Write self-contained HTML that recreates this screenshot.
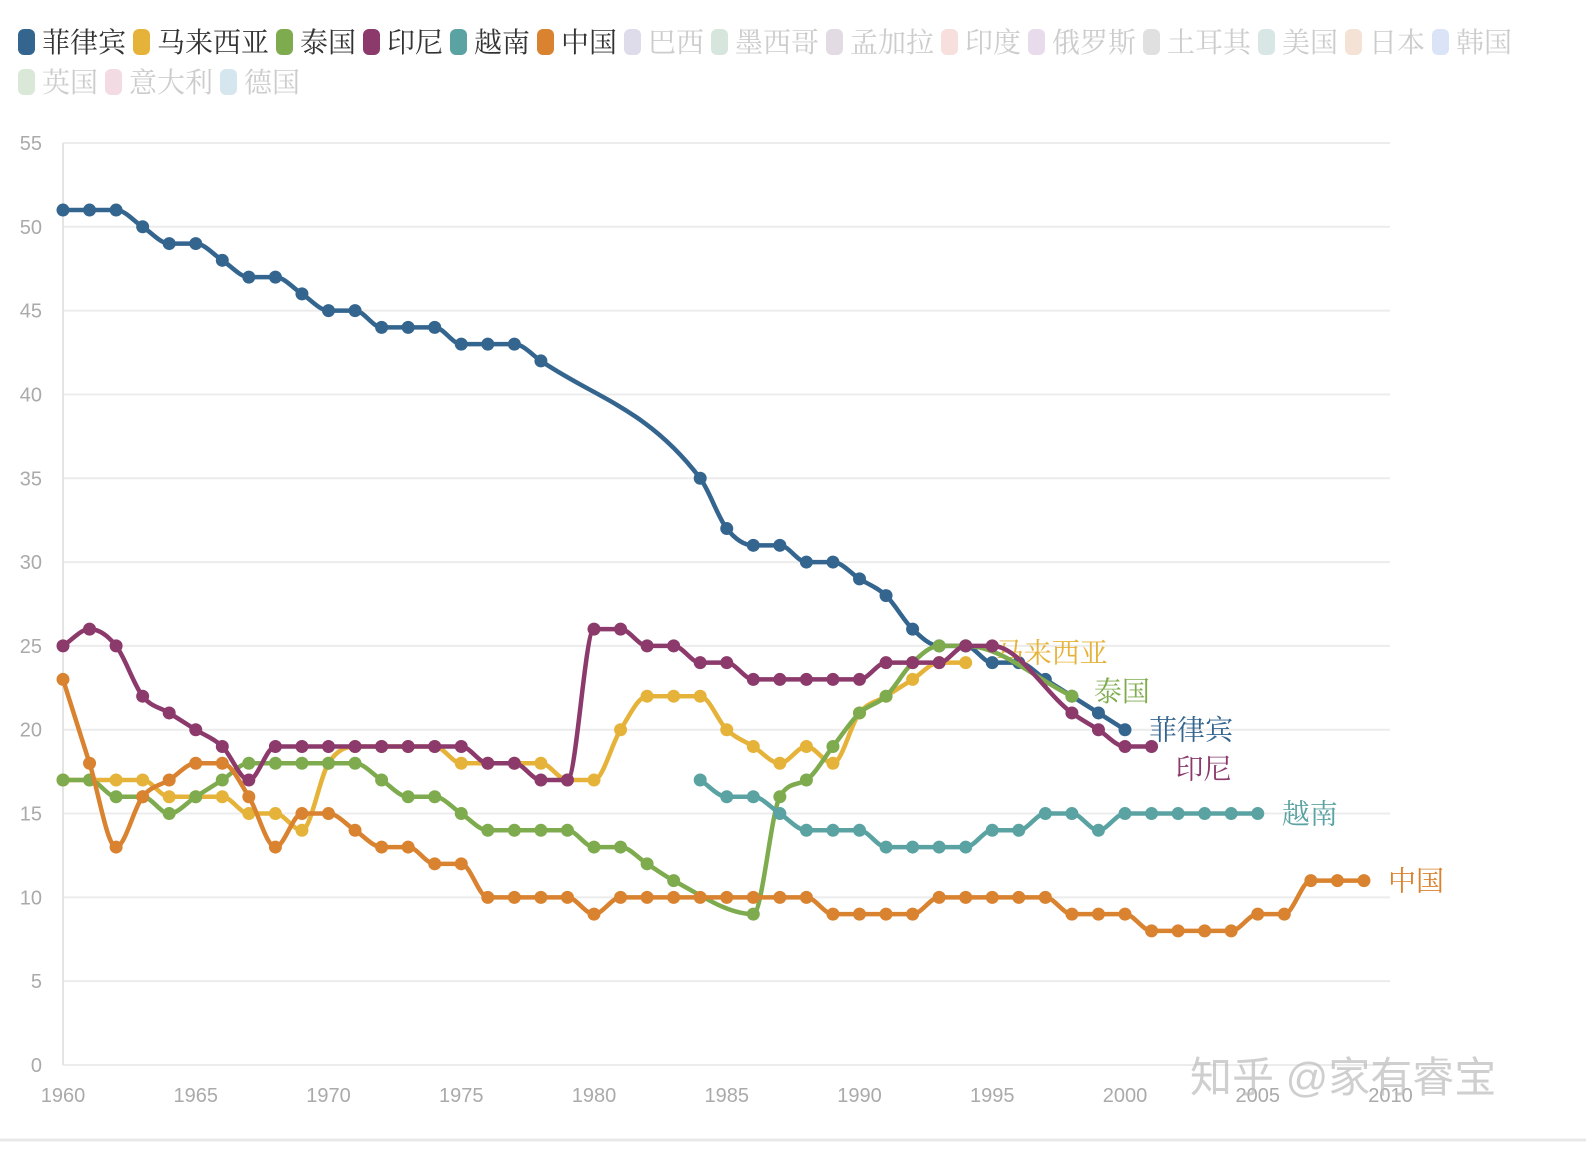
<!DOCTYPE html>
<html><head><meta charset="utf-8"><style>
body{margin:0;background:#fff;width:1586px;height:1154px;overflow:hidden;font-family:"Liberation Sans","Noto Sans CJK SC",sans-serif}
svg text{font-family:"Liberation Sans","Noto Sans CJK SC",sans-serif}
svg text.cjk{font-family:"Liberation Serif","Noto Serif CJK SC",serif}
</style></head><body>
<svg id="c" width="1586" height="1154"></svg>
<script>
const years=[];for(let y=1960;y<=2010;y++)years.push(y);
const names=["菲律宾","马来西亚","泰国","印尼","越南","中国"];
const colors=["#34658f","#e6b33a","#7fab4f","#8b3a6b","#5ba3a3","#d9822f"];
const fadedNames=["巴西","墨西哥","孟加拉","印度","俄罗斯","土耳其","美国","日本","韩国","英国","意大利","德国"];
const fadedColors=["#dedbea","#d7e6dc","#e2dbe3","#f6dfdc","#e8dcec","#e0e0e0","#d9e6e6","#f4e2d6","#dbe4f6","#dae8d8","#f2dbe3","#d6e6ee"];
const N=null;
const philippines=[51,51,51,50,49,49,48,47,47,46,45,45,44,44,44,43,43,43,42,N,N,N,N,N,35,32,31,31,30,30,29,28,26,25,25,24,24,23,22,21,20];
const malaysia=[17,17,17,17,16,16,16,15,15,14,18,19,19,19,19,18,18,18,18,17,17,20,22,22,22,20,19,18,19,18,21,22,23,24,24];
const thailand=[17,17,16,16,15,16,17,18,18,18,18,18,17,16,16,15,14,14,14,14,13,13,12,11,N,N,9,16,17,19,21,22,24,25,25,N,N,N,22];
const indonesia=[25,26,25,22,21,20,19,17,19,19,19,19,19,19,19,19,18,18,17,17,26,26,25,25,24,24,23,23,23,23,23,24,24,24,25,25,N,N,21,20,19,19];
const vietnam=[N,N,N,N,N,N,N,N,N,N,N,N,N,N,N,N,N,N,N,N,N,N,N,N,17,16,16,15,14,14,14,13,13,13,13,14,14,15,15,14,15,15,15,15,15,15];
const china=[23,18,13,16,17,18,18,16,13,15,15,14,13,13,12,12,10,10,10,10,9,10,10,10,10,10,10,10,10,9,9,9,9,10,10,10,10,10,9,9,9,8,8,8,8,9,9,11,11,11];
const series=[philippines,malaysia,thailand,indonesia,vietnam,china];
const yTicks=[0,5,10,15,20,25,30,35,40,45,50,55];
const xTicks=[1960,1965,1970,1975,1980,1985,1990,1995,2000,2005,2010];
const endLabelOffsets=[[24,0],[30,-10],[22,-5],[24,22],[24,0],[24,0]];
const X=y=>63+(y-1960)*26.55, Y=v=>1065-v*16.764;
const S=document.getElementById('c'),ns="http://www.w3.org/2000/svg";
function mk(t,a,p){const e=document.createElementNS(ns,t);for(const k in a)e.setAttribute(k,a[k]);(p||S).appendChild(e);return e;}
yTicks.forEach(v=>{const g=mk('line',{x1:63,x2:1390,y1:Y(v),y2:Y(v),stroke:'#ececec','stroke-width':2});

const t=mk('text',{x:42,y:Y(v)+7,'text-anchor':'end','font-size':20,fill:'#aaa'});t.textContent=v;
});
const ax=mk('line',{x1:63,x2:63,y1:143,y2:1065,stroke:'#e4e4e4','stroke-width':2});
xTicks.forEach(y=>{const t=mk('text',{x:X(y),y:1102,'text-anchor':'middle','font-size':20,fill:'#aaa'});t.textContent=y;
});
const bl=mk('line',{x1:0,x2:1586,y1:1140,y2:1140,stroke:'#e8e8e8','stroke-width':3});
function mono(p){const n=p.length;if(n<2)return '';const d=[],m=[];
for(let i=0;i<n-1;i++)d.push((p[i+1][1]-p[i][1])/(p[i+1][0]-p[i][0]));
for(let i=0;i<n;i++){if(i==0)m.push(d[0]);else if(i==n-1)m.push(d[n-2]);else m.push(d[i-1]*d[i]<=0?0:(d[i-1]+d[i])/2);}
for(let i=0;i<n-1;i++){if(d[i]==0){m[i]=0;m[i+1]=0;continue;}const a=m[i]/d[i],b=m[i+1]/d[i],s=a*a+b*b;if(s>9){const t=3/Math.sqrt(s);m[i]=t*a*d[i];m[i+1]=t*b*d[i];}}
let s=`M${p[0][0]},${p[0][1]}`;for(let i=0;i<n-1;i++){const h=(p[i+1][0]-p[i][0])/3;
s+=`C${p[i][0]+h},${p[i][1]+m[i]*h} ${p[i+1][0]-h},${p[i+1][1]-m[i+1]*h} ${p[i+1][0]},${p[i+1][1]}`;}return s;}
series.forEach((s,i)=>{const g=mk('g',{});
const pts=[];s.forEach((v,k)=>{if(v!==null)pts.push([X(years[k]),Y(v)]);});
const p=mk('path',{d:mono(pts),fill:'none',stroke:colors[i],'stroke-width':4.5,'stroke-linejoin':'round'},g);

pts.forEach(q=>{const c=mk('circle',{cx:q[0],cy:q[1],r:6.5,fill:colors[i]},g);});
const last=pts[pts.length-1],o=endLabelOffsets[i];
const t=mk('text',{x:last[0]+o[0],y:last[1]+o[1]+10,'font-size':28,fill:colors[i],class:'cjk'},g);t.textContent=names[i];
});
let lx=18,ly=42;const items=names.map((n,i)=>[n,colors[i],'#333']).concat(fadedNames.map((n,i)=>[n,fadedColors[i],'#ccc']));
items.forEach(it=>{const w=it[0].length*28+31;if(lx+w>1560){lx=18;ly+=40;}
const g=mk('g',{});
mk('rect',{x:lx,y:ly-13,width:17,height:26,rx:6,fill:it[1]},g);
const t=mk('text',{x:lx+24,y:ly+10,'font-size':28,fill:it[2],class:'cjk'},g);t.textContent=it[0];lx+=w;});
const wm=mk('text',{x:1190,y:1092,'font-size':42,fill:'#bbb','fill-opacity':0.7});wm.textContent="知乎 @家有睿宝";

</script></body></html>
